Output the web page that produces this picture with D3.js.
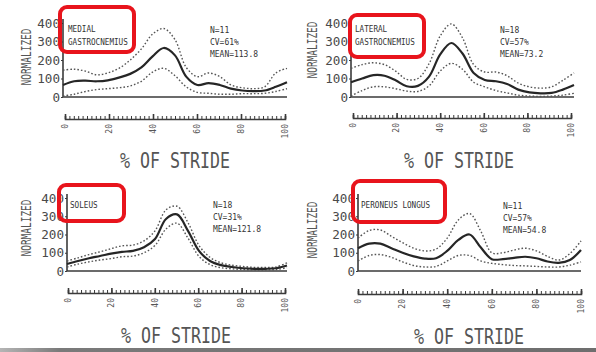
<!DOCTYPE html>
<html>
<head>
<meta charset="utf-8">
<script src="https://cdn.jsdelivr.net/npm/d3@7"></script>
<style>
  html, body { margin: 0; padding: 0; background: #fff; }
  svg { display: block; }
  text { font-family: "DejaVu Sans Mono", "Liberation Mono", monospace; }
</style>
</head>
<body>
<svg id="chart" width="596" height="352"></svg>
<script>
// Percent of stride at which each EMG envelope is sampled
const stridePct = [0, 5, 10, 15, 20, 25, 30, 35, 40, 45, 50, 55, 60, 65, 70, 75, 80, 85, 90, 95, 100];

// Medial gastrocnemius: mean and +/- 1 SD envelopes (normalized units)
const medGastMean  = [65, 85, 88, 85, 90, 105, 125, 160, 220, 265, 225, 110, 65, 75, 65, 45, 35, 32, 35, 55, 80];
const medGastUpper = [145, 150, 140, 120, 130, 155, 200, 260, 340, 370, 310, 160, 110, 130, 110, 65, 50, 45, 55, 130, 155];
const medGastLower = [5, 15, 30, 40, 45, 50, 60, 85, 135, 155, 115, 55, 25, 20, 15, 15, 18, 18, 20, 30, 45];

// Lateral gastrocnemius
const latGastMean  = [80, 100, 118, 115, 90, 58, 60, 110, 230, 292, 235, 130, 92, 85, 70, 40, 25, 20, 22, 40, 65];
const latGastUpper = [155, 175, 185, 175, 140, 95, 100, 180, 330, 395, 320, 175, 135, 135, 115, 75, 55, 48, 55, 90, 130];
const latGastLower = [5, 35, 55, 55, 45, 32, 30, 60, 140, 182, 150, 80, 55, 35, 22, 10, 5, 3, 5, 10, 20];

// Soleus
const soleusMean  = [38, 55, 70, 82, 95, 105, 110, 130, 175, 285, 310, 220, 110, 55, 32, 22, 15, 12, 12, 15, 30];
const soleusUpper = [55, 72, 90, 105, 122, 138, 142, 165, 220, 335, 355, 265, 140, 75, 45, 32, 25, 20, 20, 22, 45];
const soleusLower = [22, 38, 50, 60, 68, 78, 82, 100, 140, 230, 262, 180, 80, 35, 18, 12, 8, 6, 6, 8, 18];

// Peroneus longus
const peroneusMean  = [125, 150, 150, 125, 100, 80, 68, 70, 110, 170, 200, 130, 65, 65, 72, 78, 70, 52, 45, 60, 115];
const peroneusUpper = [180, 222, 225, 190, 155, 125, 110, 120, 180, 280, 315, 220, 100, 100, 115, 125, 110, 80, 60, 95, 165];
const peroneusLower = [55, 85, 90, 75, 50, 30, 22, 25, 55, 85, 85, 55, 42, 35, 30, 28, 25, 22, 22, 32, 50];

// Muscle names, sample sizes and summary statistics
const muscleNames = [["MEDIAL", "GASTROCNEMIUS"], ["LATERAL", "GASTROCNEMIUS"], ["SOLEUS"], ["PERONEUS LONGUS"]];
const statLines = [
  ["N=11", "CV=61%", "MEAN=113.8"],
  ["N=18", "CV=57%", "MEAN=73.2"],
  ["N=18", "CV=31%", "MEAN=121.8"],
  ["N=11", "CV=57%", "MEAN=54.8"]
];

// Axis tick values and titles
const yTicks = [0, 100, 200, 300, 400];
const xTicks = [0, 20, 40, 60, 80, 100];
const yTitle = "NORMALIZED";
const xTitle = "% OF STRIDE";

const series = [
  [medGastMean, medGastUpper, medGastLower],
  [latGastMean, latGastUpper, latGastLower],
  [soleusMean, soleusUpper, soleusLower],
  [peroneusMean, peroneusUpper, peroneusLower]
];

// Panel geometry (pixels)
const layout = [
  { px: [63, 287], py: [97, 23], rx: [65, 285], ry: 119, ylab: 21, yMid: 57, tx: 175, ty: 168,
    name: [68, 32], stat: [210, 33], box: [60, 7, 74, 45] },
  { px: [351, 574], py: [97, 23], rx: [353, 571], ry: 118, ylab: 307, yMid: 50, tx: 459, ty: 168,
    name: [355, 32], stat: [500, 33], box: [350, 15, 74, 42] },
  { px: [67, 287], py: [271, 198], rx: [68, 285], ry: 293, ylab: 21, yMid: 228, tx: 176, ty: 343,
    name: [70, 208], stat: [213, 208], box: [59, 185, 65, 36] },
  { px: [358, 581], py: [271, 198], rx: [358, 581], ry: 294, ylab: 307, yMid: 230, tx: 469, ty: 344,
    name: [361, 208], stat: [503, 209], box: [353, 181, 92, 41] }
];

const svg = d3.select("#chart");
const ink = "#3a3a3a";

// Grey strip along the lower edge of the sheet
const grad = svg.append("defs").append("linearGradient").attr("id", "edge");
grad.append("stop").attr("offset", "0%").attr("stop-color", "#b5b5b5");
grad.append("stop").attr("offset", "10%").attr("stop-color", "#7a7a7a");
grad.append("stop").attr("offset", "100%").attr("stop-color", "#6e6e6e");
svg.append("rect").attr("x", 0).attr("y", 348).attr("width", 596).attr("height", 4).attr("fill", "url(#edge)");

const boxes = svg.append("g");

layout.forEach((L, i) => {
  const g = svg.append("g");
  const x = d3.scaleLinear().domain([0, 100]).range(L.px);
  const y = d3.scaleLinear().domain([0, 400]).range(L.py);

  // Y axis with normalized-amplitude ticks
  const yAxis = d3.axisLeft(y).tickValues(yTicks).tickSize(2).tickPadding(1).tickFormat(d3.format("d"));
  const ya = g.append("g").attr("transform", `translate(${L.px[0]},0)`).call(yAxis);
  ya.select(".domain").remove();
  ya.selectAll("line").attr("stroke", ink);
  ya.selectAll("text").attr("font-size", 13).attr("fill", "#4a4a4a")
    .attr("textLength", d => String(d).length * 7.6).attr("lengthAdjust", "spacingAndGlyphs");
  g.append("line").attr("x1", L.px[0]).attr("x2", L.px[0])
    .attr("y1", y(0)).attr("y2", y(400) - 4).attr("stroke", ink).attr("stroke-width", 1.6);
  // Zero baseline
  g.append("line").attr("x1", L.px[0]).attr("x2", L.px[1])
    .attr("y1", y(0)).attr("y2", y(0)).attr("stroke", ink).attr("stroke-width", 1.6);

  // Y title
  g.append("text").attr("transform", `translate(${L.ylab + 10},${L.yMid}) rotate(-90)`)
    .attr("text-anchor", "middle").attr("font-size", 14).attr("fill", "#555")
    .attr("textLength", 57).attr("lengthAdjust", "spacingAndGlyphs").text(yTitle);

  // Envelope curves
  const line = d3.line().x((d, k) => x(stridePct[k])).y(d => y(d)).curve(d3.curveCatmullRom.alpha(0.5));
  const [mean, upper, lower] = series[i];
  [upper, lower].forEach(s => {
    g.append("path").attr("d", line(s)).attr("fill", "none").attr("stroke", "#555")
      .attr("stroke-width", 1.4).attr("stroke-dasharray", "1.6,2");
  });
  g.append("path").attr("d", line(mean)).attr("fill", "none").attr("stroke", "#262626").attr("stroke-width", 2.2);

  // Stride ruler below the plot
  const xr = d3.scaleLinear().domain([0, 100]).range(L.rx);
  const minor = d3.axisTop(xr).tickValues(d3.range(0, 101, 2)).tickSize(3).tickFormat("");
  const rm = g.append("g").attr("transform", `translate(0,${L.ry})`).call(minor);
  rm.select(".domain").attr("stroke", ink).attr("stroke-width", 1.6);
  rm.selectAll("line").attr("stroke", ink).attr("stroke-width", 1);
  const major = d3.axisTop(xr).tickValues(xTicks).tickSize(5).tickFormat("");
  const rj = g.append("g").attr("transform", `translate(0,${L.ry})`).call(major);
  rj.select(".domain").remove();
  rj.selectAll("line").attr("stroke", ink).attr("stroke-width", 1.6);
  g.selectAll(".xlab").data(xTicks).join("text")
    .attr("transform", d => `translate(${xr(d)},${L.ry + 5}) rotate(-90)`)
    .attr("text-anchor", "end").attr("dy", "0.35em").attr("font-size", 8).attr("fill", "#555")
    .text(d => d);

  // X title
  g.append("text").attr("x", L.tx).attr("y", L.ty).attr("text-anchor", "middle")
    .attr("font-size", 21).attr("fill", "#555")
    .attr("textLength", 110).attr("lengthAdjust", "spacingAndGlyphs").text(xTitle);

  // Muscle name
  muscleNames[i].forEach((s, k) => {
    g.append("text").attr("x", L.name[0]).attr("y", L.name[1] + k * 12.5)
      .attr("font-size", 9).attr("fill", "#333")
      .attr("textLength", s.length * 4.6).attr("lengthAdjust", "spacingAndGlyphs").text(s);
  });
  // Summary statistics
  statLines[i].forEach((s, k) => {
    g.append("text").attr("x", L.stat[0]).attr("y", L.stat[1] + k * 12)
      .attr("font-size", 9).attr("fill", "#333")
      .attr("textLength", s.length * 4.8).attr("lengthAdjust", "spacingAndGlyphs").text(s);
  });

  // Highlight frame around the muscle name
  boxes.append("rect").attr("x", L.box[0]).attr("y", L.box[1]).attr("width", L.box[2]).attr("height", L.box[3])
    .attr("rx", 7).attr("fill", "none").attr("stroke", "#e8141c").attr("stroke-width", 4);
});
boxes.raise();
</script>
</body>
</html>
